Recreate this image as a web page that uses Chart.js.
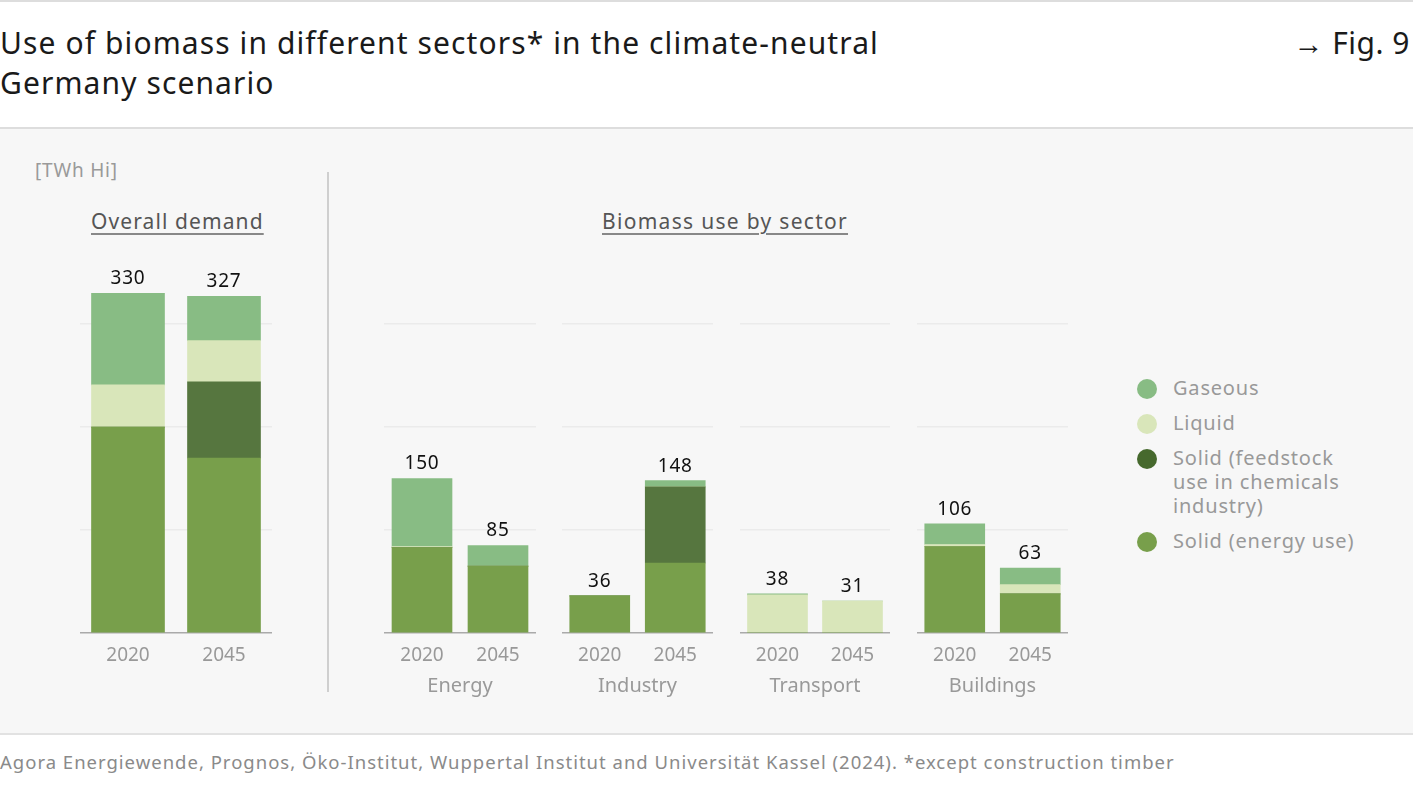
<!DOCTYPE html>
<html>
<head>
<meta charset="utf-8">
<script src="https://cdn.jsdelivr.net/npm/chart.js@4"></script>
<style>
  html, body { margin: 0; padding: 0; background: #fff; }
  body { width: 1413px; height: 792px; position: relative; overflow: hidden; font-family: "Noto Sans", Roboto, sans-serif; }
  .topline { position: absolute; left: 0; top: 0; width: 1413px; height: 2px; background: #ddd; }
  .title { position: absolute; left: 0; top: 23px; font-size: 30px; line-height: 40px; color: #1a1a1a; letter-spacing: 1.1px; }
  .fig { position: absolute; right: 3px; top: 23px; font-size: 30px; line-height: 40px; color: #1a1a1a; letter-spacing: 0.5px; }
  .panel { position: absolute; left: 0; top: 127px; width: 1413px; height: 604px; background: #f7f7f7; border-top: 2px solid #ddd; border-bottom: 2px solid #e2e2e2; }
  .unit { position: absolute; left: 35px; top: 157px; font-size: 19px; color: #9a9a9a; letter-spacing: 0.8px; }
  .head { position: absolute; top: 207px; font-size: 21px; color: #555; text-decoration: underline; text-underline-offset: 4px; text-decoration-color: #888; }
  .divider { position: absolute; left: 327px; top: 172px; width: 1.5px; height: 520px; background: #cfcfcf; }
  canvas { position: absolute; }
  .legend { position: absolute; left: 1137px; top: 376px; font-size: 20px; color: #999; letter-spacing: 0.8px; }
  .legend .item { position: relative; padding-left: 36px; line-height: 24px; margin-bottom: 11px; }
  .legend .dot { position: absolute; left: 0; top: 3px; width: 20px; height: 20px; border-radius: 50%; }
  .source { position: absolute; left: 0; top: 749px; font-size: 18.5px; color: #8a8a8a; letter-spacing: 1px; }
</style>
</head>
<body>
<div class="topline"></div>
<div class="title">Use of biomass in different sectors* in the climate-neutral<br>Germany scenario</div>
<div class="fig">→ Fig. 9</div>
<div class="panel"></div>
<div class="unit">[TWh Hi]</div>
<div class="head" style="left:91px;letter-spacing:1.1px">Overall demand</div>
<div class="head" style="left:602px;letter-spacing:1.3px">Biomass use by sector</div>
<div class="divider"></div>
<canvas id="c0" style="left:80px;top:253px" width="192" height="447"></canvas>
<canvas id="c1" style="left:384px;top:253px" width="152" height="447"></canvas>
<canvas id="c2" style="left:562px;top:253px" width="151" height="447"></canvas>
<canvas id="c3" style="left:740px;top:253px" width="150" height="447"></canvas>
<canvas id="c4" style="left:917px;top:253px" width="151" height="447"></canvas>
<div class="legend" id="legend"></div>
<div class="source">Agora Energiewende, Prognos, Öko-Institut, Wuppertal Institut and Universität Kassel (2024). *except construction timber</div>
<script>
// years on each x axis
const years = ["2020", "2045"];
const groups = ["Overall", "Energy", "Industry", "Transport", "Buildings"];
const groupTitles = ["", "Energy", "Industry", "Transport", "Buildings"];

// TWh per group: [2020, 2045]
const solidEnergy = { Overall: [200, 170], Energy: [83, 65], Industry: [36, 68], Transport: [0, 0], Buildings: [84, 38] };
const solidFeedstock = { Overall: [0, 74], Energy: [0, 0], Industry: [0, 74], Transport: [0, 0], Buildings: [0, 0] };
const liquid = { Overall: [41, 40], Energy: [1, 0], Industry: [0, 0], Transport: [37, 31], Buildings: [2, 9] };
const gaseous = { Overall: [89, 43], Energy: [66, 20], Industry: [0, 6], Transport: [1, 0], Buildings: [20, 16] };

const seriesNames = ["Solid (energy use)", "Solid (feedstock use in chemicals industry)", "Liquid", "Gaseous"];
const seriesData = [solidEnergy, solidFeedstock, liquid, gaseous];
const seriesColors = ["#789f4b", "#56763f", "#d9e6ba", "#88bc84"];
const legendColors = ["#789f4b", "#46692d", "#d9e6ba", "#88bc84"];

const totalsPlugin = {
  id: "totals",
  afterDatasetsDraw(chart) {
    const ctx = chart.ctx;
    const y = chart.scales.y;
    const meta = chart.getDatasetMeta(0);
    ctx.save();
    ctx.font = "19px 'Noto Sans'";
    ctx.letterSpacing = "0.8px";
    ctx.fillStyle = "#111";
    ctx.textAlign = "center";
    ctx.textBaseline = "bottom";
    chart.data.labels.forEach((lab, i) => {
      let total = 0;
      chart.data.datasets.forEach(ds => total += ds.data[i]);
      ctx.fillText(String(total), meta.data[i].x, y.getPixelForValue(total) - 5);
    });
    ctx.restore();
  }
};

groups.forEach((g, gi) => {
  const wide = gi === 0;
  new Chart(document.getElementById("c" + gi), {
    type: "bar",
    data: {
      labels: years,
      datasets: seriesNames.map((name, si) => ({
        label: name,
        data: seriesData[si][g],
        backgroundColor: seriesColors[si],
        borderWidth: 0,
        barThickness: wide ? 73 : 60,
      })),
    },
    options: {
      responsive: false,
      animation: false,
      layout: { padding: { top: 30, left: 0, right: 0, bottom: 0 } },
      plugins: { legend: { display: false }, tooltip: { enabled: false } },
      scales: {
        x: {
          stacked: true,
          grid: { display: false },
          border: { color: "#aaa", width: 1.5 },
          ticks: { color: "#999", font: { family: "Noto Sans", size: 19 }, padding: 3 },
          title: { display: !wide, text: groupTitles[gi], color: "#999", font: { family: "Noto Sans", size: 20 }, padding: { top: 0, bottom: 2 } },
          afterFit: s => { s.height = 67; },
        },
        y: {
          stacked: true,
          min: 0,
          max: 340,
          ticks: { display: false, stepSize: 100, includeBounds: false },
          grid: { color: c => c.tick.value === 0 ? "rgba(0,0,0,0)" : "#ebebeb", drawTicks: false, lineWidth: 1.5 },
          border: { display: false },
          afterFit: s => { s.width = 0; },
        },
      },
    },
    plugins: [totalsPlugin],
  });
});

// legend
const legendOrder = [3, 2, 1, 0];
const legendLabels = ["Solid (energy use)", "Solid (feedstock<br>use in chemicals<br>industry)", "Liquid", "Gaseous"];
const legend = document.getElementById("legend");
legendOrder.forEach(si => {
  const item = document.createElement("div");
  item.className = "item";
  item.innerHTML = '<span class="dot" style="background:' + legendColors[si] + '"></span>' + legendLabels[si];
  legend.appendChild(item);
});
</script>
</body>
</html>
